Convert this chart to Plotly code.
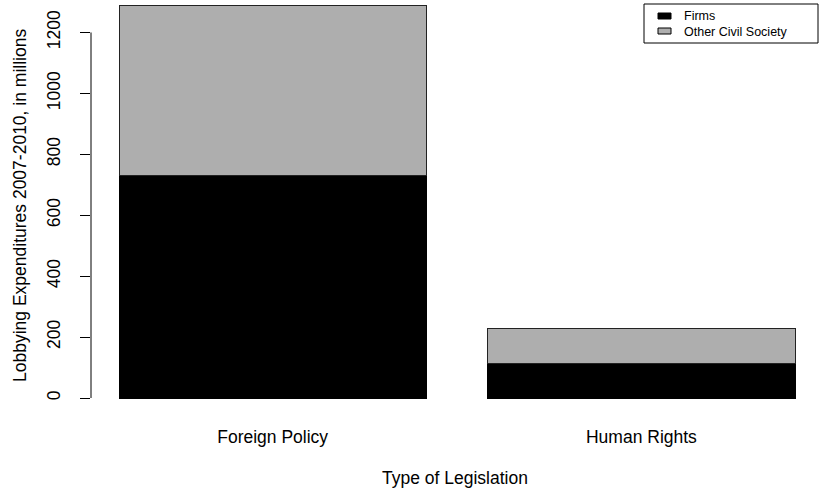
import plotly.graph_objects as go

# Lobbying expenditures 2007-2010 (millions), by type of legislation
categories = ["Foreign Policy", "Human Rights"]
firms = [732, 114]
other_civil_society = [555, 115]
y_ticks = [0, 200, 400, 600, 800, 1000, 1200]

W, H = 819, 489
ML, MB = 91, 75
plot_w, plot_h = W - ML, H - MB

# bar centres as laid out by a classic barplot (width 1, space 0.2)
centers = [0.2 + 0.5 + i * 1.2 for i in range(len(categories))]

font = "Liberation Sans, Arial, sans-serif"
fs = 17.5

fig = go.Figure()
fig.add_trace(go.Bar(x=centers, y=firms, width=1.0, name="Firms",
                     marker=dict(color="#000000", line=dict(color="#000000", width=1))))
fig.add_trace(go.Bar(x=centers, y=other_civil_society, width=1.0, name="Other Civil Society",
                     marker=dict(color="#aeaeae", line=dict(color="#222222", width=1))))


def px(xp):
    return (xp - ML) / plot_w


def py(yp):
    return (plot_h - yp) / plot_h


shapes = [
    # y axis line spanning the tick range only
    dict(type="line", xref="paper", yref="y", x0=0, x1=0, y0=y_ticks[0], y1=y_ticks[-1],
         line=dict(color="black", width=1)),
    # legend box
    dict(type="rect", xref="paper", yref="paper", x0=px(644), x1=px(818), y0=py(4), y1=py(43),
         line=dict(color="black", width=1), fillcolor="white"),
    dict(type="rect", xref="paper", yref="paper", x0=px(658), x1=px(671), y0=py(13), y1=py(19),
         line=dict(color="black", width=1), fillcolor="#000000"),
    dict(type="rect", xref="paper", yref="paper", x0=px(658), x1=px(671), y0=py(28), y1=py(34),
         line=dict(color="black", width=1), fillcolor="#aeaeae"),
]

annotations = [
    dict(text="Firms", xref="paper", yref="paper", x=px(683), y=py(16), xanchor="left",
         yanchor="middle", showarrow=False, borderpad=0,
         font=dict(size=12.5, color="black", family=font)),
    dict(text="Other Civil Society", xref="paper", yref="paper", x=px(683), y=py(31.5),
         xanchor="left", yanchor="middle", showarrow=False, borderpad=0,
         font=dict(size=12.5, color="black", family=font)),
    dict(text="Type of Legislation", xref="paper", yref="paper", x=px(455), y=py(478),
         xanchor="center", yanchor="middle", showarrow=False,
         font=dict(size=fs, color="black", family=font)),
    dict(text="Lobbying Expenditures 2007-2010, in millions", xref="paper", yref="paper",
         x=px(20), y=py(206), xanchor="center", yanchor="middle", textangle=-90,
         showarrow=False, font=dict(size=fs, color="black", family=font)),
]

fig.update_layout(
    width=W, height=H,
    margin=dict(l=ML, r=0, t=0, b=MB),
    barmode="stack",
    showlegend=False,
    plot_bgcolor="white", paper_bgcolor="white",
    font=dict(family=font, size=fs, color="black"),
    shapes=shapes,
    annotations=annotations,
    xaxis=dict(range=[0.2 - 28 / 307.3, 0.2 - 28 / 307.3 + plot_w / 307.3], tickvals=centers,
               ticktext=categories, showgrid=False, zeroline=False, showline=False,
               ticks="", ticklabelstandoff=10, tickfont=dict(size=fs)),
    yaxis=dict(range=[-52.5, 1306.6], tickvals=y_ticks, tickangle=-90,
               showgrid=False, zeroline=False, showline=False,
               ticks="outside", ticklen=10, tickcolor="black", tickwidth=1,
               ticklabelstandoff=13, tickfont=dict(size=fs)),
)

fig.write_html("out.html")
